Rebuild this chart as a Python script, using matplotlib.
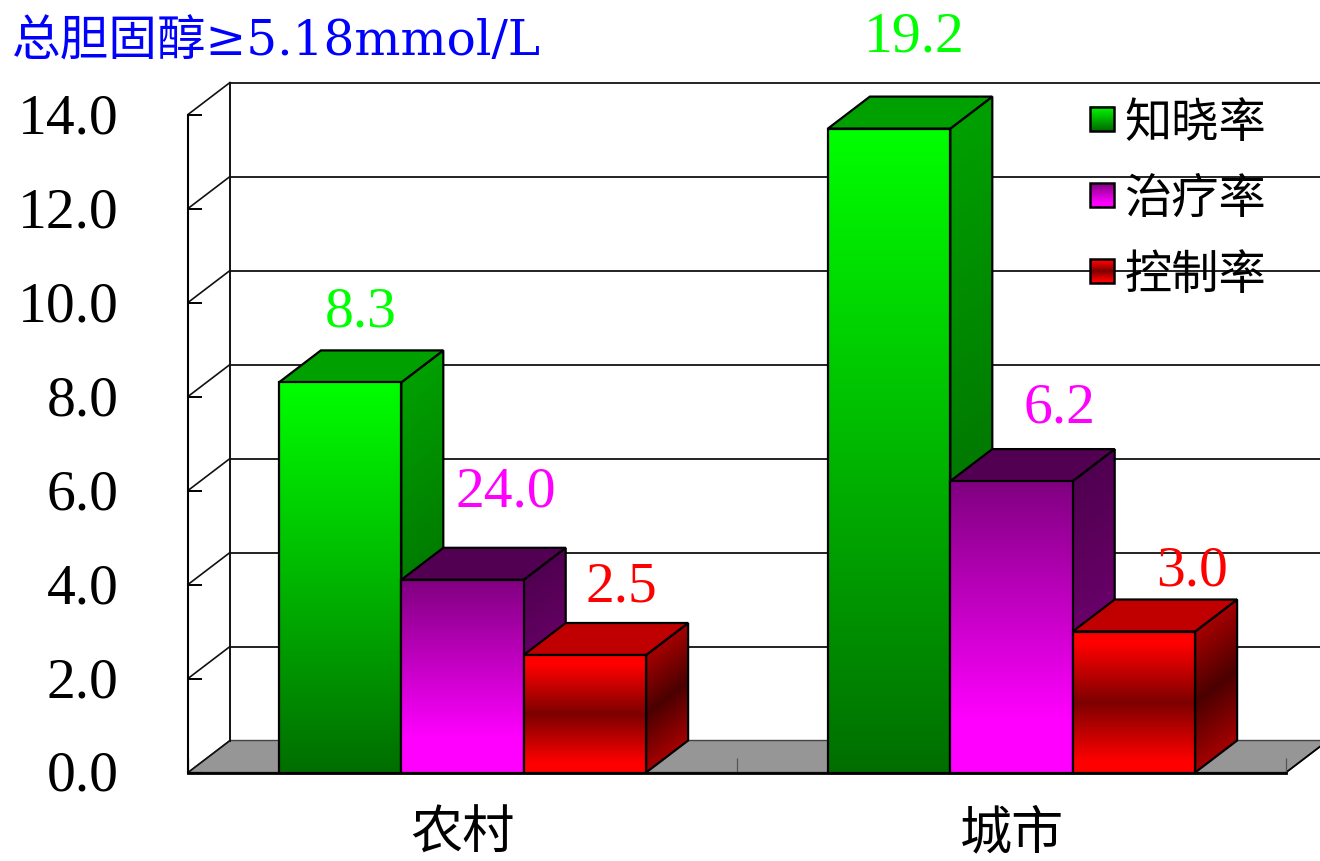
import numpy as np
import matplotlib
matplotlib.use("Agg")
import matplotlib.pyplot as plt
from matplotlib.legend_handler import HandlerBase
from matplotlib.patches import Patch, Polygon, Rectangle
from matplotlib.transforms import ScaledTranslation

# ---------- data ----------
categories = ["农村", "城市"]
series_names = ["知晓率", "治疗率", "控制率"]
rural_heights = [8.3, 4.1, 2.5]
urban_heights = [13.7, 6.2, 3.0]
rural_labels = ["8.3", "24.0", "2.5"]
urban_labels = ["19.2", "6.2", "3.0"]
y_ticks = [0, 2, 4, 6, 8, 10, 12, 14]
title_text = "总胆固醇≥5.18mmol/L"

# ---------- style ----------
W, H = 1320, 862
FONT = ["Liberation Serif", "Noto Sans CJK SC"]
CJK = ["Noto Sans CJK SC", "Liberation Serif"]
plt.rcParams["font.family"] = FONT
front_stops = [
    [(0, (0, 255, 0)), (1, (0, 110, 0))],
    [(0, (128, 0, 128)), (0.82, (255, 0, 255)), (1, (255, 0, 255))],
    [(0, (255, 0, 0)), (0.08, (255, 0, 0)), (0.5, (125, 0, 0)), (0.92, (255, 0, 0)), (1, (255, 0, 0))],
]
side_stops = [
    [(0, (0, 160, 0)), (1, (0, 90, 0))],
    [(0, (80, 0, 80)), (1, (128, 0, 128))],
    [(0, (165, 0, 0)), (0.5, (75, 0, 0)), (1, (165, 0, 0))],
]
top_colors = ["#00a000", "#520052", "#c00000"]
text_colors = ["#00ff00", "#ff00ff", "#ff0000"]
rural_offsets = [(0, 39), (22, 56), (15, 37)]
urban_offsets = [(4, 60), (27, 42), (37, 29)]

fig = plt.figure(figsize=(W / 100, H / 100), dpi=100, facecolor="white")
ax = fig.add_axes([188 / W, (H - 773.5) / H, (1286 - 188) / W, (773 - 115) / H])
ax.set_facecolor("none")
ax.set_xlim(-0.5, 1.5)
ax.set_ylim(0, 14)
ax.set_autoscale_on(False)

px_x = 2.0 / (1286 - 188)
px_y = 14.0 / (773 - 115)
DX = 42 * px_x
DY = 32 * px_y
BAR_W = 122.4 * px_x
LW = 1.6
GRID = "#111111"


def ramp(stops, t):
    pos = [s[0] for s in stops]
    return np.stack([np.interp(t, pos, [s[1][c] / 255 for s in stops]) for c in range(3)], axis=-1)


def add_gradient(rgb, extent, poly_pts, z):
    im = ax.imshow(rgb, extent=extent, aspect="auto", origin="upper",
                   interpolation="bilinear", zorder=z)
    poly = Polygon(poly_pts, closed=True, transform=ax.transData)
    im.set_clip_box(fig.bbox)
    im.set_clip_path(poly)
    ax.add_patch(Polygon(poly_pts, closed=True, fill=False, edgecolor="black",
                         linewidth=LW, zorder=z + 0.1, clip_on=False, joinstyle="miter"))


def draw_bar(x, h, i, z):
    # side face
    u = np.linspace(0, 1, 80)
    yy = np.linspace(h + DY, 0, 300)
    U, Y = np.meshgrid(u, yy)
    t = np.clip(1 - (Y - U * DY) / h, 0, 1)
    side = [(x + BAR_W, 0), (x + BAR_W + DX, DY), (x + BAR_W + DX, h + DY), (x + BAR_W, h)]
    add_gradient(ramp(side_stops[i], t), (x + BAR_W, x + BAR_W + DX, 0, h + DY), side, z)
    # top face
    ax.add_patch(Polygon([(x, h), (x + BAR_W, h), (x + BAR_W + DX, h + DY), (x + DX, h + DY)],
                         closed=True, facecolor=top_colors[i], edgecolor="black",
                         linewidth=LW, zorder=z + 0.2, clip_on=False))
    # front face
    t = np.linspace(0, 1, 300).reshape(-1, 1)
    front = [(x, 0), (x + BAR_W, 0), (x + BAR_W, h), (x, h)]
    add_gradient(ramp(front_stops[i], np.repeat(t, 2, axis=1)), (x, x + BAR_W, 0, h), front, z + 0.3)


# back wall, floor, depth lines
ax.add_patch(Polygon([(-0.5, 0), (1.5, 0), (1.5 + DX, DY), (-0.5 + DX, DY)], closed=True,
                     facecolor="#969696", edgecolor="#444444", linewidth=1.0,
                     zorder=1, clip_on=False))
for v in y_ticks:
    ax.plot([-0.5, -0.5 + DX], [v, v + DY], color=GRID, lw=1.2, zorder=1.2, clip_on=False)
    if v > 0:
        ax.plot([-0.5 + DX, 1.5 + DX], [v + DY, v + DY], color=GRID, lw=1.3, zorder=1.2, clip_on=False)
ax.plot([-0.5 + DX, -0.5 + DX], [DY, y_ticks[-1] + DY], color=GRID, lw=1.4, zorder=1.2, clip_on=False)
ax.plot([1.5, 1.5 + DX], [0, DY], color="black", lw=1.3, zorder=1.2, clip_on=False)

# bars and their labels
z = 3
for c, (heights, labels, offs) in enumerate([(rural_heights, rural_labels, rural_offsets),
                                             (urban_heights, urban_labels, urban_offsets)]):
    for i, h in enumerate(heights):
        x = c + (i - 1.5) * BAR_W
        draw_bar(x, h, i, z)
        z += 1
        ax.annotate(labels[i], xy=(x + BAR_W / 2 + DX / 2, h + DY), xytext=offs[i],
                    textcoords="offset pixels", ha="center", va="center", fontsize=41.5,
                    color=text_colors[i], annotation_clip=False, zorder=30)

# axes furniture
for s in ("top", "right"):
    ax.spines[s].set_visible(False)
for s in ("left", "bottom"):
    ax.spines[s].set_zorder(25)
ax.spines["left"].set_linewidth(1.5)
ax.spines["bottom"].set_linewidth(2.0)
ax.set_yticks(y_ticks)
ax.set_yticklabels([f"{v:.1f}" for v in y_ticks], fontsize=41.5)
ax.tick_params(axis="y", direction="in", length=10, width=1.4, pad=50, zorder=25)
lift = ScaledTranslation(0, 2.5 / 100, fig.dpi_scale_trans)
for lab in ax.get_yticklabels():
    lab.set_transform(lab.get_transform() + lift)
ax.set_xticks([0, 1])
ax.set_xticklabels(categories, fontsize=37.5, family=CJK)
ax.set_xticks([-0.5, 0.5, 1.5], minor=True)
ax.tick_params(axis="x", which="major", length=0, pad=24)
ax.tick_params(axis="x", which="minor", direction="in", length=11, width=0.9, color="#555555")

# title
fig.text(12 / W, 1 - 42 / H, title_text, fontsize=35, color="#0000ff", ha="left", va="center",
         family=["DejaVu Serif", "Noto Sans CJK SC"])


# legend
class GradientHandler(HandlerBase):
    def __init__(self, stops):
        super().__init__()
        self.stops = stops

    def create_artists(self, legend, orig_handle, xdescent, ydescent, width, height, fontsize, trans):
        n = 24
        art = []
        base = -ydescent + (height - width) / 2
        for k in range(n):
            col = ramp(self.stops, np.array((k + 0.5) / n))
            art.append(Rectangle((-xdescent, base + width * (1 - (k + 1) / n)), width, width / n + 0.4,
                                 facecolor=col, edgecolor="none", transform=trans))
        art.append(Rectangle((-xdescent, base), width, width, fill=False, edgecolor="black",
                             linewidth=1.8, transform=trans))
        return art


handles = [Patch(label=n) for n in series_names]
leg = ax.legend(handles=handles, handler_map={h: GradientHandler(s) for h, s in zip(handles, front_stops)},
                loc="upper left", bbox_to_anchor=(1090 / W, 1 - 99 / H), bbox_transform=fig.transFigure,
                frameon=False, borderpad=0, borderaxespad=0, prop={"family": CJK, "size": 34},
                handlelength=24 / 47.2, handleheight=24 / 47.2, handletextpad=10 / 47.2, labelspacing=0.59)
leg.set_zorder(40)

fig.savefig("out.png", dpi=100)
